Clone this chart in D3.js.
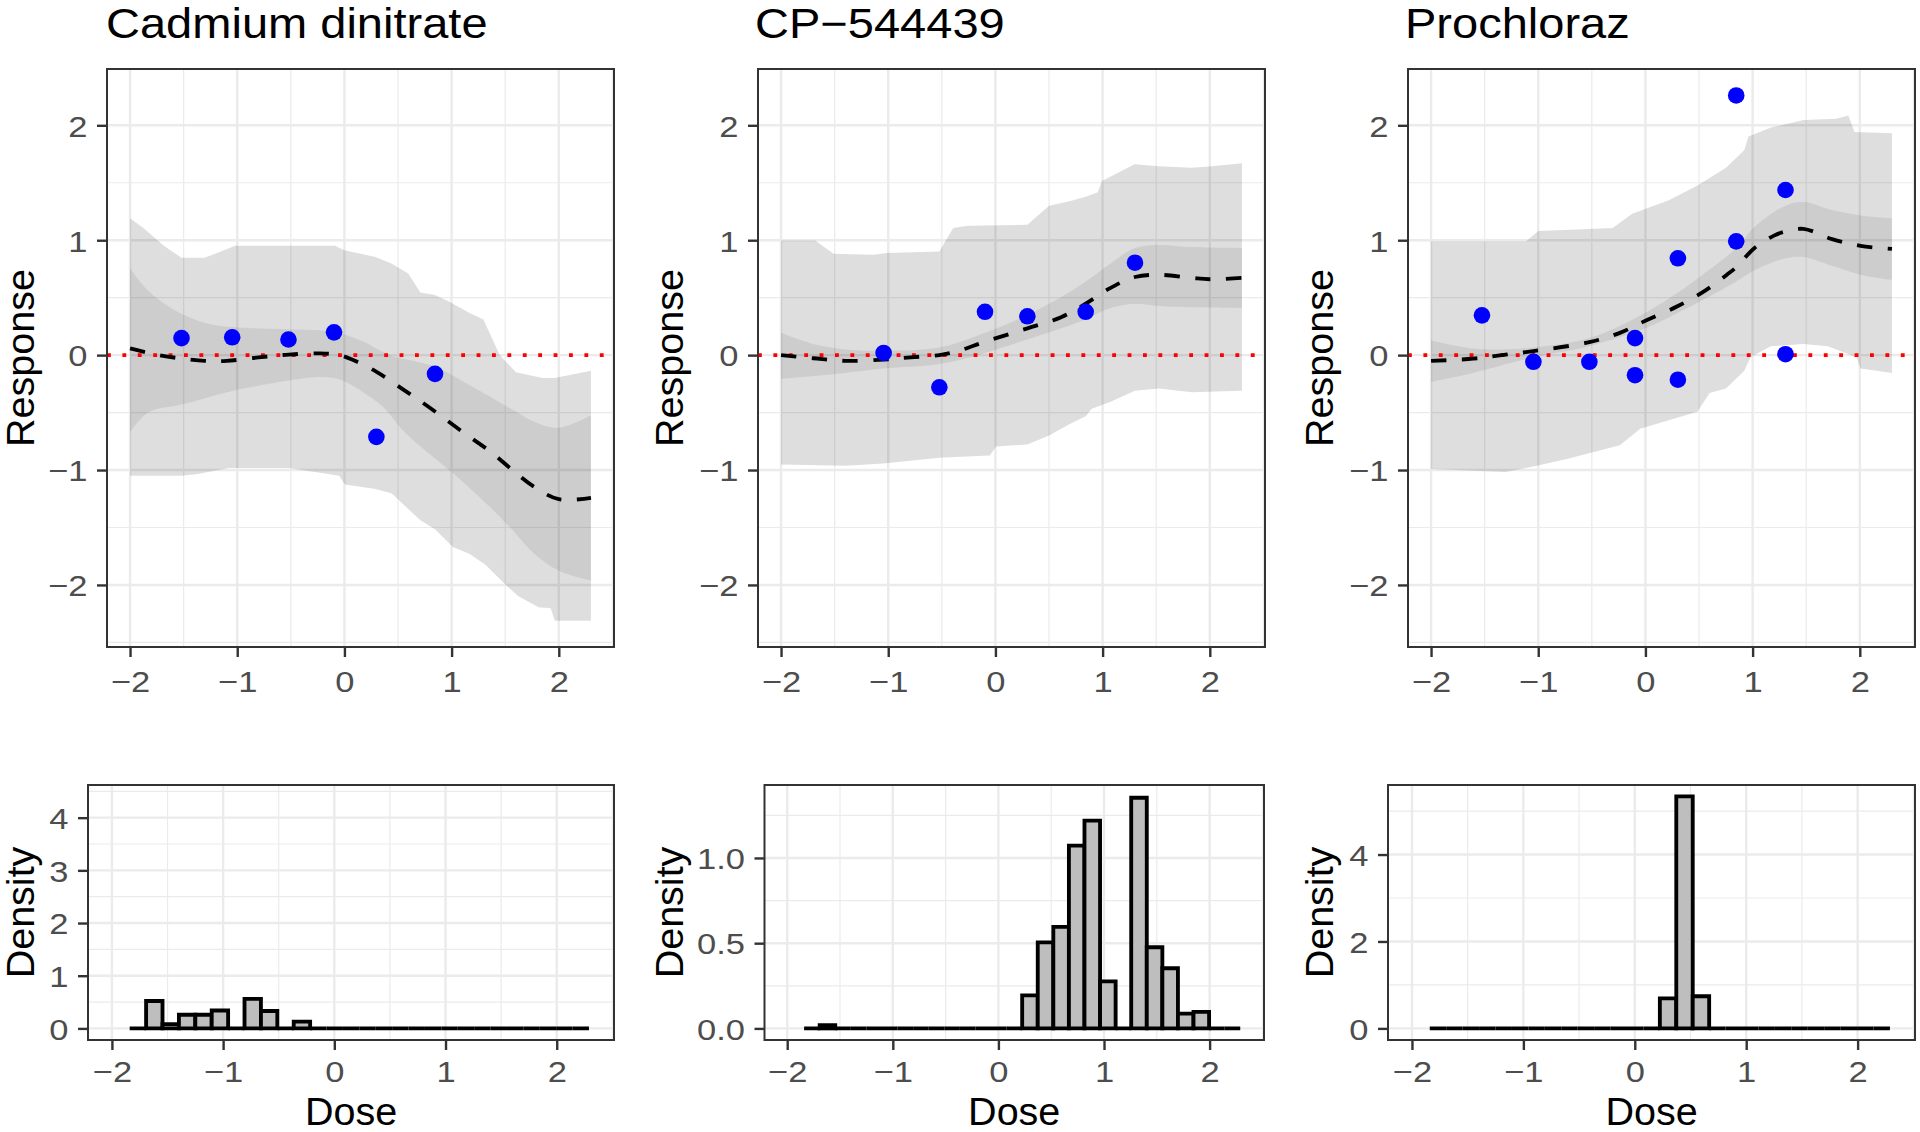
<!DOCTYPE html>
<html><head><meta charset="utf-8">
<script src="https://cdn.jsdelivr.net/npm/d3@7"></script>
<style>
body{margin:0;background:#fff}
svg{display:block}
text{font-family:"Liberation Sans",Arial,Helvetica,sans-serif}
</style>
</head><body>
<svg id="c" width="1920" height="1132"></svg>
<script>
// ---------------- DATA ----------------
const compounds = ["Cadmium dinitrate", "CP\u2212544439", "Prochloraz"];
const xTicks = [-2, -1, 0, 1, 2];
const xTickLabels = ["\u22122", "\u22121", "0", "1", "2"];
const respTicks = [-2, -1, 0, 1, 2];
const respTickLabels = ["\u22122", "\u22121", "0", "1", "2"];
const densTicks = [[0, 1, 2, 3, 4], [0, 0.5, 1.0], [0, 2, 4]];
const densTickLabels = [["0", "1", "2", "3", "4"], ["0.0", "0.5", "1.0"], ["0", "2", "4"]];

// observed responses
const cdDose = [-1.52, -1.047, -0.522, -0.097, 0.298, 0.845];
const cdResp = [0.148, 0.155, 0.136, 0.198, -0.711, -0.163];
const cpDose = [-1.043, -0.523, -0.097, 0.298, 0.842, 1.302];
const cpResp = [0.019, -0.28, 0.377, 0.338, 0.377, 0.804];
const prDose = [-1.525, -1.045, -0.523, -0.097, -0.097, 0.303, 0.303, 0.847, 0.847, 1.307, 1.307];
const prResp = [0.346, -0.058, -0.058, 0.148, -0.175, 0.843, -0.214, 2.26, 0.99, 1.437, 0.008];

// posterior mean curves [dose, response]
const cdMean = [[-2,0.058],[-1.73,0.0],[-1.52,-0.03],[-1.3,-0.05],[-1.1,-0.05],[-0.8,-0.02],[-0.52,0.005],[-0.23,0.015],[-0.05,0.0],[0.1,-0.05],[0.3,-0.145],[0.55,-0.3],[0.8,-0.46],[1.09,-0.66],[1.355,-0.835],[1.58,-1.01],[1.77,-1.146],[2.0,-1.254],[2.3,-1.243]];
const cpMean = [[-2,0],[-1.7,-0.027],[-1.4,-0.05],[-1.043,-0.039],[-0.79,-0.019],[-0.523,0],[-0.336,0.039],[-0.097,0.117],[0.298,0.233],[0.613,0.33],[0.842,0.447],[1.07,0.583],[1.302,0.68],[1.525,0.699],[1.829,0.672],[2.0,0.66],[2.3,0.672]];
const prMean = [[-2,-0.05],[-1.608,-0.031],[-1.342,0],[-1.045,0.035],[-0.523,0.113],[-0.238,0.194],[0,0.299],[0.303,0.427],[0.561,0.563],[0.76,0.7],[0.847,0.765],[1.018,0.932],[1.2,1.04],[1.307,1.076],[1.475,1.099],[1.741,1.01],[2.007,0.951],[2.3,0.924]];

// inner credible band
const cdInnerHi = [[-2,0.757],[-1.83,0.56],[-1.65,0.43],[-1.52,0.36],[-1.3,0.28],[-1.05,0.245],[-0.52,0.225],[-0.08,0.2],[0.17,0.12],[0.42,0.0],[0.6,-0.04],[0.845,-0.1],[1.09,-0.22],[1.355,-0.36],[1.58,-0.48],[1.77,-0.58],[2.0,-0.633],[2.3,-0.524]];
const cdInnerLo = [[-2,-0.672],[-1.83,-0.5],[-1.52,-0.43],[-1.08,-0.32],[-0.52,-0.22],[-0.2,-0.19],[-0.05,-0.21],[0.17,-0.32],[0.36,-0.45],[0.55,-0.66],[0.845,-0.9],[1.09,-1.09],[1.355,-1.32],[1.58,-1.534],[1.77,-1.728],[2.0,-1.876],[2.3,-1.961]];
const cpInnerHi = [[-2,0.194],[-1.7,0.097],[-1.4,0.05],[-1.043,0.039],[-0.523,0.066],[-0.097,0.194],[0.298,0.35],[0.613,0.505],[0.842,0.641],[1.07,0.796],[1.302,0.932],[1.525,0.959],[1.829,0.94],[2.3,0.932]];
const cpInnerLo = [[-2,-0.206],[-1.4,-0.155],[-1.043,-0.117],[-0.523,-0.078],[-0.097,0.019],[0.298,0.136],[0.613,0.233],[0.842,0.311],[1.07,0.408],[1.302,0.447],[1.525,0.427],[1.829,0.416],[2.3,0.408]];
const prInnerHi = [[-2,0.128],[-1.608,0.058],[-1.342,0.05],[-1.045,0.066],[-0.523,0.148],[0,0.369],[0.303,0.544],[0.561,0.718],[0.847,0.932],[1.018,1.115],[1.307,1.301],[1.475,1.332],[1.741,1.262],[2.007,1.216],[2.3,1.192]];
const prInnerLo = [[-2,-0.233],[-1.608,-0.155],[-1.045,-0.019],[-0.523,0.078],[0,0.233],[0.303,0.369],[0.561,0.493],[0.847,0.641],[1.018,0.738],[1.307,0.843],[1.475,0.854],[1.741,0.777],[2.007,0.699],[2.3,0.652]];

// outer prediction band
const cdOuterHi = [[-2,1.192],[-1.875,1.107],[-1.685,0.951],[-1.52,0.847],[-1.305,0.847],[-1.23,0.874],[-1.02,0.951],[-0.089,0.951],[0,0.913],[0.29,0.854],[0.443,0.796],[0.595,0.711],[0.709,0.544],[0.845,0.524],[0.974,0.466],[1.164,0.369],[1.297,0.311],[1.45,0.0],[1.6,-0.15],[1.85,-0.2],[1.96,-0.2],[2.3,-0.136]];
const cdOuterLo = [[-2,-1.049],[-1.52,-1.049],[-1.38,-1.037],[-1.077,-0.983],[-0.52,-0.983],[-0.05,-1.049],[0.005,-1.126],[0.29,-1.165],[0.443,-1.204],[0.595,-1.34],[0.709,-1.437],[0.845,-1.515],[1.012,-1.67],[1.164,-1.728],[1.316,-1.825],[1.506,-2.0],[1.62,-2.097],[1.81,-2.194],[1.925,-2.202],[1.962,-2.311],[2.3,-2.311]];
const cpOuterHi = [[-2,0.998],[-1.68,0.998],[-1.51,0.882],[-1.133,0.874],[-1.02,0.889],[-0.523,0.901],[-0.394,1.107],[-0.26,1.126],[0.298,1.134],[0.5,1.301],[0.69,1.34],[0.842,1.379],[0.955,1.417],[0.994,1.515],[1.297,1.662],[1.525,1.643],[1.829,1.631],[2.02,1.643],[2.3,1.67]];
const cpOuterLo = [[-2,-0.951],[-1.4,-0.963],[-1.043,-0.944],[-0.523,-0.893],[-0.052,-0.874],[0.006,-0.796],[0.298,-0.777],[0.5,-0.699],[0.69,-0.602],[0.842,-0.532],[0.899,-0.466],[1.07,-0.408],[1.302,-0.311],[1.525,-0.291],[1.829,-0.322],[2.3,-0.311]];
const prOuterHi = [[-2,0.99],[-1.113,0.99],[-0.999,1.08],[-0.306,1.107],[-0.124,1.231],[0.219,1.348],[0.485,1.476],[0.752,1.631],[0.923,1.786],[0.961,1.903],[1.17,1.98],[1.475,2.047],[1.779,2.058],[1.893,2.085],[1.951,1.942],[2.3,1.93]];
const prOuterLo = [[-2,-0.99],[-1.494,-1.01],[-1.304,-1.017],[-1.056,-0.971],[-0.733,-0.905],[-0.238,-0.784],[-0.048,-0.641],[0.485,-0.493],[0.599,-0.33],[0.752,-0.291],[0.923,-0.136],[0.98,-0.019],[1.17,0.078],[1.475,0.097],[1.703,0.078],[1.97,-0.019],[2.007,-0.117],[2.3,-0.155]];

// histogram of dose (bin edges and densities)
const binEdges = [-1.84,-1.6925,-1.545,-1.3975,-1.25,-1.1025,-0.955,-0.8075,-0.66,-0.5125,-0.365,-0.2175,-0.07,0.0775,0.225,0.3725,0.52,0.6675,0.815,0.9625,1.11,1.2575,1.405,1.5525,1.70,1.8475,1.995,2.1425,2.29];
const cdDensity = [0,0.52,0.08,0.26,0.26,0.34,0,0.56,0.33,0,0.13,0,0,0,0,0,0,0,0,0,0,0,0,0,0,0,0,0];
const cpDensity = [0,0.019,0,0,0,0,0,0,0,0,0,0,0,0,0.194,0.505,0.596,1.072,1.219,0.276,0,1.353,0.476,0.353,0.087,0.097,0,0];
const prDensity = [0,0,0,0,0,0,0,0,0,0,0,0,0,0,0.69,5.34,0.74,0,0,0,0,0,0,0,0,0,0,0];

// ---------------- LAYOUT ----------------
const xDomain = [-2.215, 2.515];
const respDomain = [-2.54, 2.49];
const densDomains = [[-0.22, 4.62], [-0.068, 1.428], [-0.267, 5.6]];
const xMinor = [-1.5, -0.5, 0.5, 1.5, 2.5];
const respMinor = [-2.5, -1.5, -0.5, 0.5, 1.5];
const densMinor = [[0.5, 1.5, 2.5, 3.5, 4.5], [0.25, 0.75, 1.25], [1, 3, 5]];

const topY = [69, 647];
const botY = [785, 1040];
const topX = [[107, 614], [758, 1265], [1408, 1915]];
const botX = [[88, 614], [764.5, 1264], [1388, 1915]];
const yTitleX = [34, 683, 1333];
const titleX = [106, 755, 1405];

const TICK = 10, PAD = 9.5;
const LW = 3.85;
const FONT_TICK = 30, FONT_AXIS = 38, FONT_TITLE = 42;
const SX_TICK = 1.15, SX_AXIS = 1.04, SX_TITLE = 1.12;

const panels = [
  {dose: cdDose, resp: cdResp, mean: cdMean, inHi: cdInnerHi, inLo: cdInnerLo, outHi: cdOuterHi, outLo: cdOuterLo, dens: cdDensity},
  {dose: cpDose, resp: cpResp, mean: cpMean, inHi: cpInnerHi, inLo: cpInnerLo, outHi: cpOuterHi, outLo: cpOuterLo, dens: cpDensity},
  {dose: prDose, resp: prResp, mean: prMean, inHi: prInnerHi, inLo: prInnerLo, outHi: prOuterHi, outLo: prOuterLo, dens: prDensity}
];

const svg = d3.select("#c");
svg.append("rect").attr("width", 1920).attr("height", 1132).attr("fill", "#fff");

function grid(g, x, y, xMaj, xMin, yMaj, yMin) {
  const [x0, x1] = x.range(), [y1, y0] = y.range();
  const gg = g.append("g");
  const dom = x.domain(), ydom = y.domain();
  const inX = v => v >= Math.min(...dom) && v <= Math.max(...dom);
  const inY = v => v >= Math.min(...ydom) && v <= Math.max(...ydom);
  gg.selectAll(".ymin").data(yMin.filter(inY)).join("line")
    .attr("x1", x0).attr("x2", x1).attr("y1", d => y(d)).attr("y2", d => y(d))
    .attr("stroke", "#EBEBEB").attr("stroke-width", 1.2);
  gg.selectAll(".xmin").data(xMin.filter(inX)).join("line")
    .attr("y1", y0).attr("y2", y1).attr("x1", d => x(d)).attr("x2", d => x(d))
    .attr("stroke", "#EBEBEB").attr("stroke-width", 1.2);
  gg.selectAll(".ymaj").data(yMaj).join("line")
    .attr("x1", x0).attr("x2", x1).attr("y1", d => y(d)).attr("y2", d => y(d))
    .attr("stroke", "#EBEBEB").attr("stroke-width", 2.4);
  gg.selectAll(".xmaj").data(xMaj).join("line")
    .attr("y1", y0).attr("y2", y1).attr("x1", d => x(d)).attr("x2", d => x(d))
    .attr("stroke", "#EBEBEB").attr("stroke-width", 2.4);
}

function axes(g, x, y, yVals, yLabels, xLabelOffset) {
  const [x0, x1] = x.range(), [y1, y0] = y.range();
  const ax = d3.axisBottom(x).tickValues(xTicks).tickFormat((d, i) => xTickLabels[i]).tickSize(TICK).tickPadding(PAD);
  const gx = g.append("g").attr("transform", `translate(0,${y1})`).call(ax);
  gx.select(".domain").remove();
  gx.selectAll(".tick line").attr("stroke", "#333333").attr("stroke-width", 2.4);
  gx.selectAll(".tick text").attr("y", xLabelOffset).attr("dy", null).attr("x", 0)
    .attr("transform", `scale(${SX_TICK},1)`)
    .attr("fill", "#4D4D4D").attr("font-size", FONT_TICK).attr("font-family", null);
  const ayAxis = d3.axisLeft(y).tickValues(yVals).tickFormat((d, i) => yLabels[i]).tickSize(TICK).tickPadding(PAD);
  const gy = g.append("g").attr("transform", `translate(${x0},0)`).call(ayAxis);
  gy.select(".domain").remove();
  gy.selectAll(".tick line").attr("stroke", "#333333").attr("stroke-width", 2.4);
  gy.selectAll(".tick text").attr("dy", "0.36em").attr("x", -(TICK + PAD) / SX_TICK)
    .attr("transform", `scale(${SX_TICK},1)`)
    .attr("fill", "#4D4D4D").attr("font-size", FONT_TICK).attr("font-family", null);
  g.append("rect").attr("x", x0).attr("y", y0).attr("width", x1 - x0).attr("height", y1 - y0)
    .attr("fill", "none").attr("stroke", "#333333").attr("stroke-width", 2);
}

function bandPath(x, y, hi, lo, curve) {
  const line = d3.line().x(d => x(d[0])).y(d => y(d[1])).curve(curve);
  const a = line(hi);
  const b = line(lo.slice().reverse());
  return a + "L" + b.slice(1) + "Z";
}

function axisTitle(g, cx, cy, label) {
  g.append("text").attr("transform", `translate(${cx},${cy}) rotate(-90) scale(${SX_AXIS},1)`)
    .attr("text-anchor", "middle").attr("font-size", FONT_AXIS).attr("fill", "#000").text(label);
}

panels.forEach((p, i) => {
  // ---------- top: response ----------
  const x = d3.scaleLinear().domain(xDomain).range(topX[i]);
  const y = d3.scaleLinear().domain(respDomain).range([topY[1], topY[0]]);
  const g = svg.append("g");
  grid(g, x, y, xTicks, xMinor, respTicks, respMinor);
  g.append("path").attr("d", bandPath(x, y, p.outHi, p.outLo, d3.curveLinear))
    .attr("fill", "#000").attr("fill-opacity", 0.13);
  g.append("path").attr("d", bandPath(x, y, p.inHi, p.inLo, d3.curveCatmullRom))
    .attr("fill", "#000").attr("fill-opacity", 0.075);
  g.append("line").attr("x1", topX[i][0]).attr("x2", topX[i][1]).attr("y1", y(0)).attr("y2", y(0))
    .attr("stroke", "#FF0000").attr("stroke-width", LW).attr("stroke-dasharray", `${LW},${3 * LW}`);
  g.append("path").attr("d", d3.line().x(d => x(d[0])).y(d => y(d[1])).curve(d3.curveCatmullRom)(p.mean))
    .attr("fill", "none").attr("stroke", "#000").attr("stroke-width", LW)
    .attr("stroke-dasharray", `${4 * LW},${4 * LW}`);
  g.selectAll(".pt").data(p.dose).join("circle")
    .attr("cx", d => x(d)).attr("cy", (d, j) => y(p.resp[j])).attr("r", 8.3).attr("fill", "#0000FF");
  axes(g, x, y, respTicks, respTickLabels, 44.7);
  g.append("text").attr("x", titleX[i] / SX_TITLE).attr("y", 38.5)
    .attr("transform", `scale(${SX_TITLE},1)`)
    .attr("font-size", FONT_TITLE).attr("fill", "#000").text(compounds[i]);
  axisTitle(g, yTitleX[i], (topY[0] + topY[1]) / 2, "Response");

  // ---------- bottom: density histogram ----------
  const xb = d3.scaleLinear().domain(xDomain).range(botX[i]);
  const yb = d3.scaleLinear().domain(densDomains[i]).range([botY[1], botY[0]]);
  const gb = svg.append("g");
  grid(gb, xb, yb, xTicks, xMinor, densTicks[i], densMinor[i]);
  const bins = p.dens.map((h, k) => ({x0: binEdges[k], x1: binEdges[k + 1], h}));
  gb.selectAll(".bin").data(bins).join("path")
    .attr("d", d => `M${xb(d.x0)},${yb(0)}V${yb(d.h)}H${xb(d.x1)}V${yb(0)}Z`)
    .attr("fill", "#BEBEBE").attr("stroke", "#000").attr("stroke-width", LW);
  axes(gb, xb, yb, densTicks[i], densTickLabels[i], 42);
  axisTitle(gb, yTitleX[i], (botY[0] + botY[1]) / 2, "Density");
  const cx = (botX[i][0] + botX[i][1]) / 2;
  gb.append("text").attr("x", cx / SX_AXIS).attr("y", 1125)
    .attr("transform", `scale(${SX_AXIS},1)`)
    .attr("text-anchor", "middle").attr("font-size", FONT_AXIS).attr("fill", "#000").text("Dose");
});
</script>
</body></html>
